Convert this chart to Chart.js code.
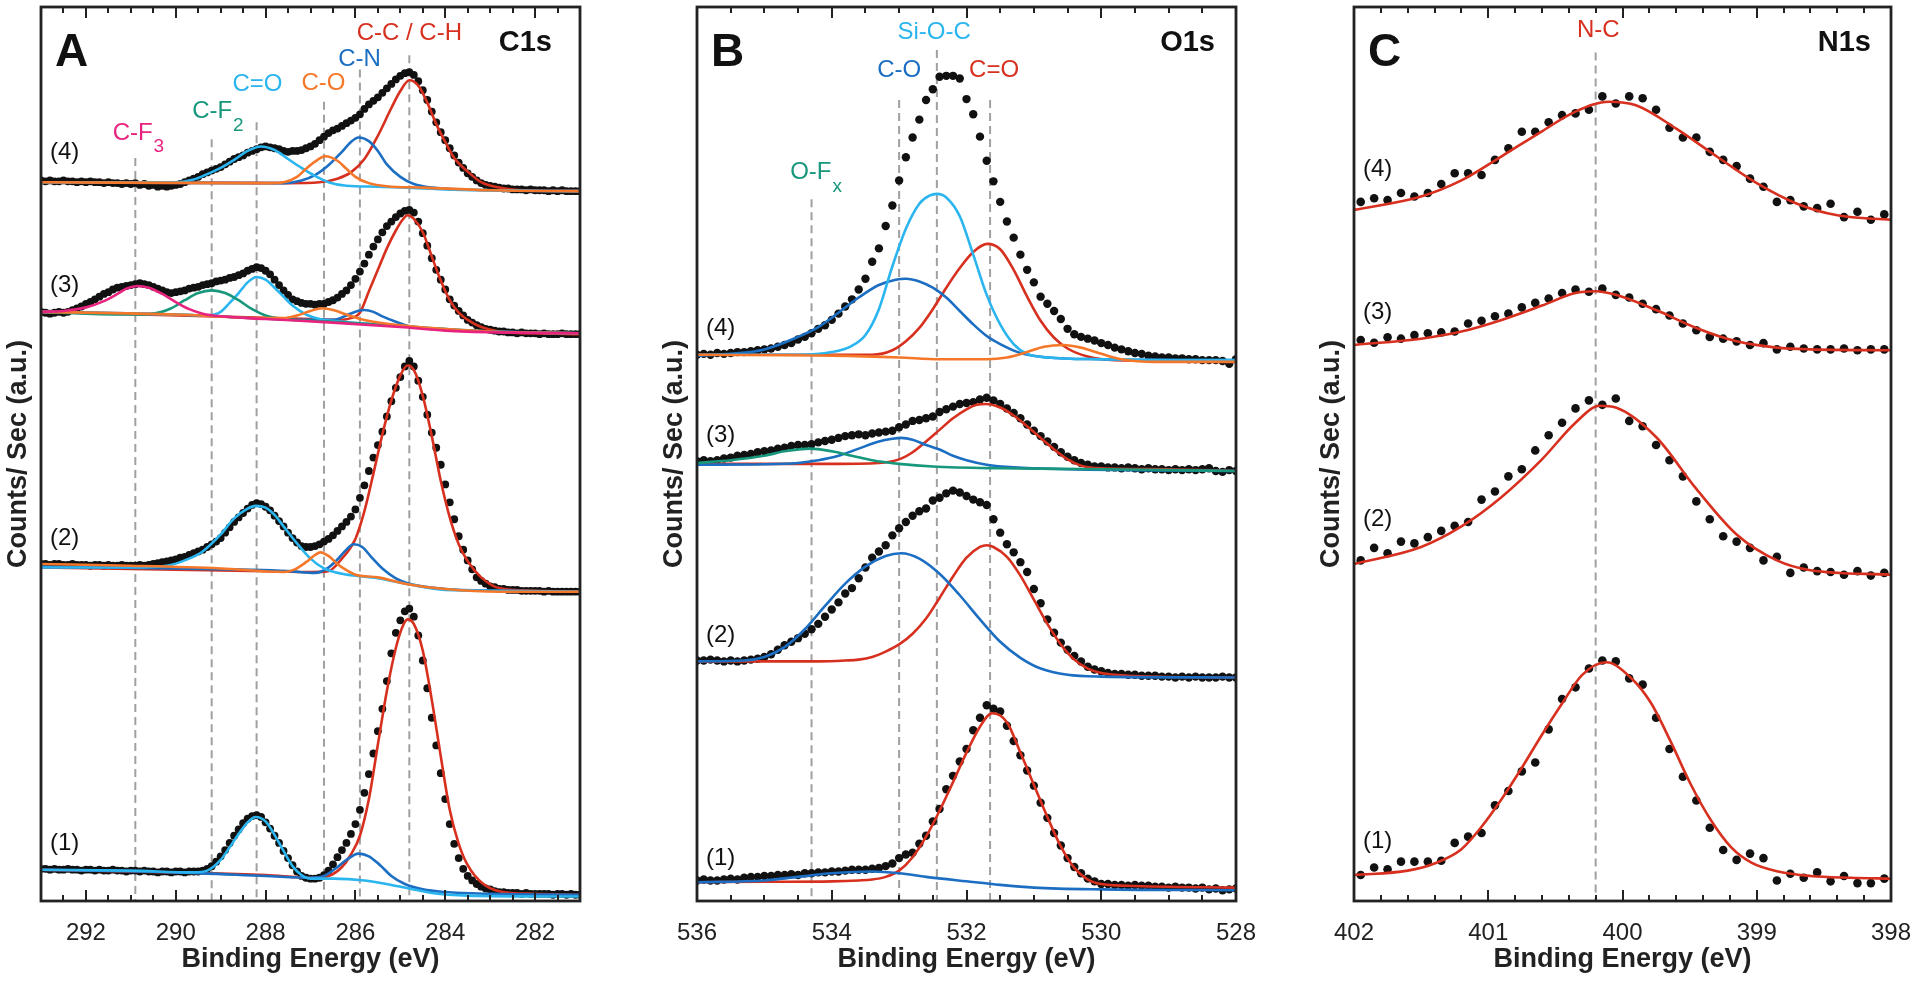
<!DOCTYPE html>
<html>
<head>
<meta charset="utf-8">
<script src="https://cdn.jsdelivr.net/npm/chart.js@4.4.1/dist/chart.umd.min.js"></script>
<style>
html,body{margin:0;padding:0;background:#fff;}
#wrap{position:relative;width:1920px;height:983px;overflow:hidden;}
canvas{position:absolute;top:0;}
</style>
</head>
<body>
<div id="wrap">
<canvas id="cA" width="610" height="983" style="left:0px"></canvas>
<canvas id="cB" width="610" height="983" style="left:656px"></canvas>
<canvas id="cC" width="607" height="983" style="left:1313px"></canvas>
</div>
<script>
var FONT = '"Liberation Sans", Arial, Helvetica, sans-serif';
var RED = '#d7301f', BLUE = '#1b6ec2', LBLUE = '#2bb5ef', ORANGE = '#f5782a', GREEN = '#17977c', PINK = '#e8237f';

// ---------- panel A : C1s ----------
var A_START = 293, A_STEP = 0.1;
var aTicks = [292, 290, 288, 286, 284, 282];
var aData4 = [80.6,80.5,80.6,80.5,80.5,80.6,80.5,80.5,80.4,80.5,
  80.4,80.5,80.4,80.4,80.3,80.4,80.3,80.3,80.2,80.3,
  80.2,80.3,80.1,80.2,80.0,80.1,79.9,80.0,79.9,80.0,
  80.1,80.2,80.4,80.6,80.8,81.0,81.3,81.5,81.7,81.9,
  82.1,82.4,82.7,83.0,83.2,83.4,83.7,83.9,84.1,84.3,
  84.4,84.3,84.2,84.1,83.9,83.8,83.9,83.9,84.0,84.2,
  84.4,84.7,85.1,85.5,85.9,86.2,86.4,86.7,87.0,87.3,
  87.6,88.0,88.6,89.1,89.5,89.9,90.4,90.9,91.4,91.9,
  92.3,92.6,92.7,92.4,91.7,90.7,89.6,88.3,87.1,86.0,
  85.1,84.2,83.4,82.6,82.0,81.4,81.0,80.6,80.3,80.1,
  80.0,79.9,79.8,79.7,79.7,79.6,79.6,79.6,79.5,79.6,
  79.5,79.5,79.5,79.4,79.5,79.4,79.5,79.4,79.4,79.4,
  79.4];
var aData3 = [65.9,65.8,65.7,65.8,65.9,65.8,65.9,66.1,66.3,66.5,
  66.8,67.0,67.3,67.6,67.9,68.1,68.4,68.6,68.7,68.8,
  68.9,69.0,69.1,69.0,68.9,68.7,68.5,68.3,68.1,68.0,
  68.1,68.2,68.3,68.5,68.6,68.7,68.9,69.0,69.1,69.3,
  69.4,69.5,69.7,69.8,70.0,70.2,70.5,70.7,70.9,70.8,
  70.5,70.1,69.5,68.9,68.3,67.8,67.3,67.1,66.9,66.8,
  66.8,66.7,66.8,66.8,67.0,67.2,67.5,67.9,68.3,68.9,
  69.6,70.4,71.3,72.3,73.2,74.0,74.8,75.5,76.0,76.5,
  76.9,77.2,77.3,77.0,76.0,74.7,73.3,71.9,70.6,69.5,
  68.4,67.3,66.6,66.0,65.5,65.0,64.7,64.4,64.2,64.0,
  63.9,63.8,63.7,63.7,63.6,63.6,63.5,63.6,63.5,63.5,
  63.5,63.4,63.5,63.4,63.4,63.4,63.5,63.4,63.4,63.4,
  63.4];
var aData2 = [37.7,37.7,37.6,37.7,37.7,37.6,37.6,37.7,37.6,37.6,
  37.6,37.5,37.6,37.6,37.5,37.6,37.5,37.5,37.6,37.5,
  37.5,37.5,37.6,37.5,37.6,37.7,37.8,37.9,38.0,38.1,
  38.2,38.4,38.5,38.7,38.9,39.1,39.3,39.6,39.9,40.2,
  40.6,41.2,41.8,42.4,42.9,43.4,43.9,44.3,44.5,44.4,
  44.1,43.7,43.1,42.5,41.9,41.2,40.6,40.1,39.7,39.6,
  39.6,39.7,39.9,40.2,40.5,40.9,41.4,41.9,42.4,43.0,
  43.8,45.1,46.5,48.1,49.6,51.0,52.5,54.2,55.9,57.4,
  58.6,59.8,60.4,59.8,58.2,56.4,54.4,52.4,50.7,48.8,
  46.6,44.6,42.7,40.8,39.3,38.1,37.1,36.2,35.8,35.5,
  35.2,35.1,34.9,34.9,34.8,34.8,34.8,34.7,34.7,34.7,
  34.7,34.7,34.6,34.7,34.6,34.6,34.6,34.6,34.6,34.6,
  34.6];
var aData1 = [3.6,3.6,3.5,3.6,3.5,3.5,3.6,3.5,3.5,3.4,
  3.5,3.5,3.4,3.5,3.4,3.4,3.5,3.4,3.4,3.3,
  3.4,3.4,3.3,3.4,3.3,3.3,3.2,3.3,3.3,3.2,
  3.3,3.3,3.2,3.3,3.3,3.3,3.4,3.6,3.9,4.4,
  5.0,5.7,6.5,7.3,8.0,8.7,9.2,9.5,9.6,9.4,
  8.8,8.1,7.3,6.5,5.6,4.8,4.0,3.3,2.8,2.6,
  2.5,2.5,2.6,2.9,3.4,4.1,4.9,5.7,6.5,7.5,
  8.6,10.2,12.1,14.2,16.5,19.0,21.5,24.6,27.7,30.0,
  31.4,32.4,32.7,31.8,29.7,26.9,23.8,20.5,17.4,14.3,
  11.4,8.6,6.4,4.8,3.6,2.8,2.3,1.9,1.6,1.4,
  1.3,1.1,1.0,1.0,0.9,0.9,0.9,0.8,0.9,0.8,
  0.8,0.8,0.8,0.8,0.7,0.8,0.8,0.7,0.8,0.7,
  0.7];

var aCC4 = [[293,80.4],[287.5,80.3],[286.8,80.4],[286.4,80.8],[286.1,81.5],[285.8,83.0],[285.5,85.6],[285.2,88.7],[285.0,90.6],[284.8,91.8],[284.6,91.2],[284.4,89.3],[284.2,86.9],[284.0,84.9],[283.8,83.1],[283.5,81.6],[283.2,80.4],[282.8,79.8],[282.3,79.5],[281,79.4]];
var aCN4 = [[293,80.4],[287.6,80.3],[287.2,80.6],[286.9,81.2],[286.6,82.3],[286.3,83.8],[286.1,84.9],[285.93,85.4],[285.7,85.0],[285.5,83.9],[285.3,82.4],[285.0,81.0],[284.7,80.2],[284.3,79.8],[283,79.5],[281,79.4]];
var aCO4 = [[293,80.4],[288.0,80.3],[287.6,80.4],[287.3,81.0],[287.1,81.9],[286.9,82.7],[286.67,83.3],[286.4,82.8],[286.2,81.9],[286.0,81.0],[285.7,80.3],[285.3,79.95],[284.5,79.8],[283,79.5],[281,79.4]];
var aCdO4 = [[293,80.4],[290.0,80.4],[289.6,80.7],[289.3,81.3],[289.0,82.0],[288.7,82.9],[288.4,83.9],[288.1,84.4],[287.8,84.0],[287.5,83.0],[287.2,82.0],[286.9,81.1],[286.6,80.4],[286.2,80.0],[285.5,79.9],[284,79.6],[281,79.4]];

var aCF33 = [[293,65.9],[292.5,66.0],[292.0,66.4],[291.6,67.1],[291.3,67.9],[291.1,68.5],[290.85,68.8],[290.6,68.6],[290.3,67.9],[290.0,67.0],[289.7,66.2],[289.4,65.7],[289.0,65.4],[288,65.1],[286.5,64.7],[285,64.2],[284,63.8],[282.8,63.6],[281,63.5]];
var aCF23 = [[293,65.9],[292,65.7],[291,65.6],[290.5,65.7],[290.1,66.3],[289.8,67.2],[289.5,68.0],[289.2,68.3],[288.9,68.0],[288.6,67.2],[288.3,66.2],[288.0,65.5],[287.6,65.1],[286.5,64.8],[285,64.3],[283,63.7],[281,63.5]];
var aCdO3 = [[293,65.9],[290,65.6],[289.3,65.5],[289.0,65.9],[288.8,66.9],[288.6,68.0],[288.4,69.2],[288.2,69.8],[288.0,69.5],[287.8,68.6],[287.6,67.6],[287.4,66.6],[287.1,65.6],[286.8,65.1],[286.5,64.9],[285,64.3],[283,63.7],[281,63.5]];
var aCO3 = [[293,65.9],[290,65.6],[288,65.2],[287.6,65.2],[287.3,65.5],[287.0,66.0],[286.74,66.3],[286.5,66.1],[286.2,65.6],[285.9,65.1],[285.6,64.8],[285,64.4],[283,63.7],[281,63.5]];
var aCN3 = [[293,65.9],[290,65.6],[287,65.0],[286.5,65.0],[286.2,65.5],[285.95,66.0],[285.8,66.1],[285.6,65.9],[285.4,65.4],[285.1,64.8],[284.8,64.3],[284,63.9],[282,63.6],[281,63.5]];
var aCC3 = [[293,65.9],[287,65.1],[286.4,65.0],[286.1,65.2],[285.9,65.8],[285.7,68.2],[285.5,70.6],[285.3,73.0],[285.1,75.0],[284.95,76.2],[284.84,76.7],[284.7,76.3],[284.5,74.8],[284.3,72.1],[284.1,69.4],[283.9,67.2],[283.7,65.8],[283.5,65.0],[283.2,64.2],[282.8,63.7],[282,63.5],[281,63.4]];

var aCdO2 = [[293,37.3],[291,37.3],[290.2,37.5],[289.8,38.1],[289.4,39.1],[289.0,41.0],[288.7,42.8],[288.4,43.9],[288.22,44.2],[288.0,44.0],[287.8,43.2],[287.6,41.9],[287.3,40.0],[287.0,38.3],[286.7,37.2],[286.3,36.6],[285.5,36.1],[284.8,35.4],[284,34.8],[282.8,34.7],[281,34.6]];
var aCO2 = [[293,37.7],[291,37.5],[289,37.2],[287.6,36.8],[287.35,37.1],[287.1,37.9],[286.9,38.7],[286.78,39.0],[286.6,38.6],[286.4,37.7],[286.2,37.0],[286.0,36.5],[285.5,36.2],[284.8,35.4],[284,34.9],[282.8,34.6],[281,34.6]];
var aCN2 = [[293,37.4],[290,37.2],[287.5,36.9],[286.9,36.7],[286.6,37.3],[286.4,38.2],[286.2,39.3],[286.04,39.9],[285.85,39.6],[285.65,38.5],[285.4,37.2],[285.1,36.1],[284.8,35.5],[284,34.9],[282.8,34.7],[281,34.6]];
var aCC2 = [[293,37.3],[288,36.9],[287,36.8],[286.6,36.9],[286.3,38.3],[286.0,40.5],[285.8,43.6],[285.6,47.8],[285.4,52.2],[285.2,56.0],[285.0,58.8],[284.84,59.9],[284.7,59.4],[284.5,56.5],[284.3,52.0],[284.1,47.0],[283.9,42.9],[283.7,39.9],[283.5,38.0],[283.2,36.2],[282.8,35.0],[282,34.7],[281,34.6]];

var aCdO1 = [[293,3.5],[291,3.4],[289.6,3.2],[289.3,3.4],[289.0,4.6],[288.8,6.0],[288.6,7.5],[288.4,8.8],[288.22,9.4],[288.0,8.9],[287.8,7.4],[287.6,5.6],[287.4,3.9],[287.2,2.9],[287.0,2.5],[286.5,2.5],[285.8,2.3],[285.2,1.8],[284.8,1.4],[284.3,0.9],[283.5,0.6],[281,0.5]];
var aCN1 = [[293,3.5],[290,3.2],[288,2.8],[287,2.6],[286.7,2.8],[286.45,3.6],[286.2,4.6],[285.93,5.3],[285.7,5.0],[285.45,4.0],[285.2,2.8],[284.9,1.9],[284.5,1.3],[284,1.0],[283,0.8],[281,0.7]];
var aCC1 = [[293,3.5],[288,2.9],[287,2.6],[286.6,2.8],[286.3,3.8],[286.1,5.2],[285.9,7.3],[285.7,11.4],[285.5,17.5],[285.3,23.5],[285.1,28.3],[284.95,30.7],[284.84,31.5],[284.7,31.0],[284.5,28.0],[284.3,22.5],[284.1,16.2],[283.9,10.2],[283.7,6.4],[283.5,4.0],[283.2,2.1],[282.8,1.1],[282,0.8],[281,0.7]];

var aPeakE = [290.9, 289.2, 288.2, 286.7, 285.9, 284.8];
var aPeakTop = [83.1, 85.2, 87.1, 89.4, 93.0, 94.6];
var aNames = ['C-F', 'C-F', 'C=O', 'C-O', 'C-N', 'C-C / C-H'];
var aSubs = ['3', '2', '', '', '', ''];
var aNameE = [290.96, 289.19, 288.18, 286.71, 285.91, 284.8];
var aNameV = [85.9, 88.3, 91.3, 91.5, 94.1, 97.1];
var aNameColor = [PINK, GREEN, LBLUE, ORANGE, BLUE, RED];
var aNumV = [6.5, 40.6, 68.9, 83.7];

// ---------- panel B : O1s ----------
var B_START = 536, B_STEP = 0.1;
var bTicks = [536, 534, 532, 530, 528];
var bData4 = [61.1,61.2,61.1,61.3,61.2,61.3,61.4,61.4,61.5,61.6,
  61.7,61.8,62.0,62.2,62.4,62.8,63.1,63.5,64.0,64.4,
  65.0,65.7,66.5,67.3,68.4,69.6,71.5,73.0,75.5,77.8,
  80.6,83.2,85.4,87.4,89.6,90.8,92.2,92.3,92.3,92.0,
  89.7,88.0,85.5,82.8,80.5,78.2,76.0,74.2,72.3,70.6,
  69.2,67.6,66.8,66.0,65.1,64.0,63.4,63.1,62.9,62.7,
  62.4,62.2,61.9,61.7,61.5,61.3,61.2,61.0,60.9,60.8,
  60.8,60.7,60.7,60.6,60.6,60.5,60.5,60.5,60.4,60.1,
  60.6];
var bData3 = [49.2,49.3,49.2,49.3,49.5,49.6,49.8,49.9,50.0,50.2,
  50.3,50.4,50.6,50.7,50.9,51.0,51.0,51.1,51.3,51.45,
  51.6,51.8,52.0,52.1,52.2,52.1,52.3,52.4,52.5,52.6,
  53.0,53.3,53.7,53.8,54.0,54.2,54.7,55.0,55.3,55.6,
  55.7,55.8,56.1,56.3,56.0,55.6,55.1,54.6,54.0,53.3,
  52.6,52.0,51.4,50.8,50.2,49.7,49.3,49.0,48.8,48.6,
  48.6,48.5,48.5,48.4,48.5,48.4,48.3,48.4,48.3,48.3,
  48.2,48.3,48.2,48.3,48.2,48.3,48.4,48.1,48.0,48.2,
  48.1];
var bData2 = [26.9,26.9,27.0,26.9,26.8,26.9,26.8,26.9,27.0,27.1,
  27.3,27.6,28.1,28.6,29.0,29.4,29.9,30.4,31.0,31.8,
  32.6,33.4,34.4,35.0,36.1,37.3,38.4,39.1,39.8,40.9,
  41.7,42.4,43.1,43.6,43.9,44.8,45.1,45.6,45.9,45.7,
  45.3,44.9,44.6,44.3,42.7,41.2,39.9,39.0,37.9,36.8,
  34.9,33.3,31.5,30.0,28.9,28.1,27.4,26.8,26.2,25.9,
  25.7,25.5,25.4,25.4,25.3,25.3,25.2,25.2,25.2,25.1,
  25.1,25.0,25.1,25.0,25.1,25.0,25.0,25.0,25.1,25.0,
  25.0];
var bData1 = [2.3,2.4,2.3,2.3,2.4,2.5,2.4,2.6,2.7,2.7,
  2.8,2.8,2.9,2.9,3.0,2.9,3.1,3.1,3.2,3.2,
  3.3,3.3,3.4,3.5,3.5,3.5,3.6,3.7,3.9,4.2,
  4.8,5.2,5.4,6.4,7.3,8.9,10.3,12.5,14.0,15.6,
  17.0,19.1,20.5,21.9,21.5,21.2,19.6,17.9,16.3,14.6,
  12.9,11.0,9.3,7.6,6.2,4.8,3.8,3.1,2.5,2.2,
  1.9,1.9,1.8,1.8,1.7,1.8,1.7,1.7,1.6,1.6,
  1.5,1.6,1.5,1.5,1.4,1.5,1.3,1.4,1.2,1.3,
  1.4];

var bSiOC4 = [[536,61.1],[534.5,61.1],[534.0,61.4],[533.7,62.1],[533.5,63.3],[533.3,66.2],[533.1,71.0],[532.9,75.2],[532.7,78.0],[532.55,78.9],[532.44,79.1],[532.3,78.7],[532.1,76.6],[531.9,72.3],[531.7,67.8],[531.5,64.5],[531.3,62.3],[531.1,61.2],[530.8,60.8],[530,60.6],[528,60.5]];
var bCO4 = [[536,61.0],[535.5,61.2],[535.0,61.7],[534.5,63.1],[534.2,64.2],[533.9,65.8],[533.6,67.5],[533.3,68.9],[533.05,69.5],[532.9,69.6],[532.7,69.3],[532.5,68.6],[532.3,67.5],[532.1,66.0],[531.9,64.5],[531.7,63.2],[531.5,62.3],[531.2,61.3],[530.8,60.8],[530,60.6],[528,60.5]];
var bCdO4 = [[536,61.1],[534,61.1],[533.4,61.1],[533.1,61.6],[532.9,62.6],[532.7,64.1],[532.5,66.2],[532.3,68.6],[532.1,70.8],[531.9,72.6],[531.69,73.5],[531.5,72.9],[531.3,70.6],[531.1,67.6],[530.9,64.9],[530.7,63.0],[530.5,61.8],[530.2,60.9],[529.8,60.5],[528,60.4]];
var bOr4 = [[536,61.1],[534,61.0],[533,60.8],[532.4,60.6],[531.7,60.6],[531.4,60.8],[531.1,61.4],[530.85,62.0],[530.56,62.2],[530.3,61.9],[530.0,61.2],[529.7,60.6],[529.2,60.3],[528,60.3]];

var bCdO3 = [[536,48.9],[534,48.9],[533.3,49.0],[533.0,49.4],[532.8,50.2],[532.6,51.4],[532.4,52.7],[532.2,54.0],[532.0,55.0],[531.85,55.5],[531.71,55.6],[531.5,55.2],[531.3,54.3],[531.1,53.1],[530.9,51.8],[530.7,50.5],[530.5,49.4],[530.3,48.7],[530.0,48.4],[529,48.3],[528,48.1]];
var bCO3 = [[536,48.8],[535,48.85],[534.5,49.0],[534.2,49.3],[533.9,49.8],[533.6,50.6],[533.3,51.4],[533.1,51.7],[532.97,51.8],[532.8,51.6],[532.6,51.0],[532.4,50.5],[532.2,49.8],[532.0,49.3],[531.7,48.8],[531.3,48.5],[530.5,48.3],[528,48.1]];
var bOF3 = [[536,49.0],[535.5,49.3],[535.0,49.8],[534.7,50.3],[534.32,50.6],[534.0,50.3],[533.7,49.8],[533.4,49.3],[533.0,48.9],[532.5,48.6],[531.5,48.4],[530,48.3],[528,48.1]];

var bCO2 = [[536,26.8],[535.3,26.9],[535.0,27.3],[534.7,28.4],[534.4,30.4],[534.1,33.0],[533.8,35.5],[533.5,37.4],[533.2,38.6],[532.97,38.9],[532.7,38.3],[532.4,36.6],[532.1,34.2],[531.8,31.5],[531.5,29.0],[531.2,27.2],[530.9,26.0],[530.5,25.3],[530,25.1],[528,25.0]];
var bCdO2 = [[536,26.8],[535,26.8],[534.2,26.8],[533.8,26.9],[533.6,27.0],[533.4,27.3],[533.2,27.9],[533.0,28.7],[532.8,29.9],[532.6,31.6],[532.4,33.9],[532.2,36.3],[532.0,38.4],[531.8,39.6],[531.7,39.8],[531.6,39.6],[531.4,38.5],[531.2,36.4],[531.0,33.7],[530.8,31.0],[530.6,28.7],[530.4,27.0],[530.2,26.0],[530.0,25.5],[529.6,25.2],[528,25.0]];

var bCdO1 = [[536,2.1],[535,2.15],[534,2.2],[533.6,2.3],[533.4,2.4],[533.2,2.7],[533.0,3.4],[532.8,4.9],[532.6,7.2],[532.4,10.1],[532.2,13.3],[532.0,16.6],[531.8,19.5],[531.62,21.0],[531.4,20.0],[531.2,16.6],[531.0,13.0],[530.8,9.4],[530.6,6.1],[530.4,3.7],[530.2,2.4],[530.0,1.9],[529.6,1.7],[528,1.5]];
var bCO1 = [[536,2.1],[535,2.3],[534.5,2.7],[534,3.1],[533.4,3.3],[533,3.1],[532.6,2.7],[532,2.2],[531.5,1.8],[531,1.5],[530,1.3],[528,1.2]];

var bPeakE = [534.3, 533.0, 532.44, 531.65];
var bPeakTop = [78.5, 89.6, 95.2, 89.6];
var bNames = ['O-F', 'C-O', 'Si-O-C', 'C=O'];
var bSubs = ['x', '', '', ''];
var bNameE = [534.31, 533.0, 532.48, 531.59];
var bNameV = [81.5, 92.9, 97.2, 92.9];
var bNameColor = [GREEN, BLUE, LBLUE, RED];
var bNumV = [4.8, 29.7, 52.1, 64.1];

// ---------- panel C : N1s ----------
var C_START = 401.95, C_STEP = 0.1;
var cTicks = [402, 401, 400, 399, 398];
var cData4 = [78.2,78.6,78.4,79.2,78.8,79.2,80.2,81.4,81.4,81.2,82.9,84.2,86.05,86.05,87.1,87.9,88.1,88.5,90.0,89.2,
  90.0,89.8,88.5,86.5,85.4,85.4,83.8,82.9,82.2,80.8,79.9,78.2,78.4,77.7,77.5,78.0,76.5,77.1,76.2,76.8];
var cData3 = [62.75,62.45,63.05,62.9,63.3,63.5,63.6,63.7,64.6,64.9,65.4,65.7,66.4,66.9,67.4,68.0,68.4,68.15,68.5,67.8,
  67.5,66.8,66.2,65.5,64.6,63.85,63.1,62.9,62.6,62.2,62.4,61.7,62.0,61.8,61.7,61.7,61.8,61.6,61.7,61.7];
var cData2 = [38.1,39.5,38.9,40.2,40.0,40.7,41.4,41.96,42.4,44.9,45.8,47.5,48.3,50.4,52.1,53.5,55.1,56.0,55.5,56.2,
  53.7,53.1,51.0,49.3,47.5,44.7,42.7,40.8,40.2,39.5,38.1,38.5,36.7,37.3,36.9,36.8,36.5,36.9,36.4,36.7];
var cData1 = [2.9,3.75,3.55,4.4,4.4,4.4,4.5,6.5,7.2,7.6,10.7,12.3,14.5,15.5,19.2,22.6,23.9,26.0,26.9,26.8,
  24.9,24.2,20.5,17.0,13.9,11.25,8.2,5.7,4.6,5.3,4.8,2.3,3.05,2.6,3.2,2.2,2.8,2.0,2.0,2.5];

var cFit4 = [[402,77.3],[401.5,78.8],[401.2,80.6],[400.9,83.3],[400.6,86.1],[400.35,88.3],[400.1,89.4],[399.9,89.0],[399.6,86.4],[399.3,83.3],[399.0,80.3],[398.7,78.0],[398.4,76.7],[398,76.2]];
var cFit3 = [[402,62.2],[401.5,62.9],[401.2,63.7],[400.9,65.0],[400.6,66.6],[400.35,68.0],[400.2,68.2],[400.05,67.8],[399.75,66.1],[399.45,64.1],[399.15,62.6],[398.85,61.9],[398.6,61.7],[398,61.6]];
var cFit2 = [[402,37.7],[401.5,39.6],[401.2,41.9],[400.9,45.2],[400.6,49.4],[400.35,53.5],[400.17,55.4],[400.05,55.2],[399.75,51.9],[399.45,46.1],[399.15,41.0],[398.85,38.1],[398.6,37.0],[398,36.5]];
var cFit1 = [[402,2.9],[401.6,3.4],[401.4,4.2],[401.2,5.8],[401.05,8.3],[400.9,11.4],[400.75,14.9],[400.6,18.6],[400.45,22.1],[400.3,25.3],[400.12,26.7],[399.94,25.0],[399.79,22.2],[399.64,17.8],[399.49,13.0],[399.34,9.0],[399.19,6.0],[399.04,4.3],[398.84,3.3],[398.6,2.8],[398.3,2.6],[398,2.5]];

var cPeakE = [400.2];
var cPeakTop = [94.9];
var cNames = ['N-C'];
var cSubs = [''];
var cNameE = [400.18];
var cNameV = [97.4];
var cNameColor = [RED];
var cNumV = [6.7, 42.7, 65.8, 81.8];

// ---------- helpers ----------
function grid(start, step, vals) {
  return vals.map(function (v, i) { return { x: +(start - i * step).toFixed(2), y: v }; });
}
function dots(start, step, vals, r) {
  return { data: grid(start, step, vals), showLine: false, pointRadius: r, pointHoverRadius: r,
    pointBackgroundColor: '#111', pointBorderWidth: 0, borderColor: '#111' };
}
function fit(arr, color) {
  return { data: arr.map(function (p) { return { x: p[0], y: p[1] }; }), borderColor: color, borderWidth: 2.6,
    pointRadius: 0, cubicInterpolationMode: 'monotone', fill: false };
}
function dashes(es, tops) {
  return es.map(function (e, i) {
    return { data: [{ x: e, y: tops[i] }, { x: e, y: 0 }], borderColor: '#a0a0a0', borderWidth: 2,
      borderDash: [8, 5], pointRadius: 0, fill: false };
  });
}
function put(ctx, txt, x, y, font, color, align) {
  ctx.font = font; ctx.fillStyle = color; ctx.textAlign = align || 'center'; ctx.textBaseline = 'middle';
  ctx.fillText(txt, x, y);
}

function decor(p) {
  return {
    id: 'decor',
    afterDraw: function (chart) {
      var ctx = chart.ctx, ca = chart.chartArea, xs = chart.scales.x, ys = chart.scales.y;
      ctx.save();
      // inward ticks, bottom and top
      ctx.strokeStyle = '#222'; ctx.lineWidth = 2;
      var n = Math.round((p.max - p.min) / p.minor);
      for (var k = 0; k <= n; k++) {
        var v = p.min + k * p.minor;
        var major = p.ticks.some(function (t) { return Math.abs(t - v) < 1e-6; });
        var len = major ? 11 : 6;
        var px = Math.round(xs.getPixelForValue(v));
        ctx.beginPath();
        ctx.moveTo(px, ca.bottom); ctx.lineTo(px, ca.bottom - len);
        ctx.moveTo(px, ca.top); ctx.lineTo(px, ca.top + len);
        ctx.stroke();
      }
      // frame
      ctx.lineWidth = 2.8;
      ctx.strokeRect(ca.left, ca.top, ca.right - ca.left, ca.bottom - ca.top);
      // panel letter and core level
      put(ctx, p.letter, ca.left + 14, ca.top + 46, 'bold 46px ' + FONT, '#111', 'left');
      put(ctx, p.core, ca.right - p.coreInset, ca.top + 36, 'bold 29px ' + FONT, '#111', 'right');
      // spectrum numbers
      p.numV.forEach(function (v, i) {
        put(ctx, '(' + (i + 1) + ')', ca.left + 9, ys.getPixelForValue(v), '24px ' + FONT, '#111', 'left');
      });
      // peak names
      p.names.forEach(function (t, i) {
        var x = xs.getPixelForValue(p.nameE[i]), y = ys.getPixelForValue(p.nameV[i]);
        put(ctx, t, x, y, '24px ' + FONT, p.nameColor[i], 'center');
        if (p.subs[i]) {
          ctx.font = '24px ' + FONT;
          var w = ctx.measureText(t).width;
          put(ctx, p.subs[i], x + w / 2 + 1, y + 14, '19px ' + FONT, p.nameColor[i], 'left');
        }
      });
      ctx.restore();
    }
  };
}

function makeChart(id, p) {
  var list = [].concat(dashes(p.peakE, p.peakTop), p.layers);
  list.forEach(function (d, i) { d.order = list.length - i; });
  new Chart(document.getElementById(id), {
    type: 'line',
    data: { datasets: list },
    options: {
      responsive: false, animation: false, devicePixelRatio: 1, events: [],
      layout: { padding: { top: 7, right: p.padRight, left: 0, bottom: 0 } },
      plugins: { legend: { display: false }, tooltip: { enabled: false } },
      scales: {
        x: {
          type: 'linear', reverse: true, min: p.min, max: p.max, position: 'bottom',
          afterBuildTicks: function (s) { s.ticks = p.ticks.map(function (v) { return { value: v }; }); },
          afterFit: function (s) { s.height = 82; s.paddingLeft = 0; s.paddingRight = 0; },
          grid: { display: false }, border: { display: false },
          ticks: { autoSkip: false, maxRotation: 0, padding: 10, color: '#222',
            font: { family: FONT, size: 24 }, callback: function (v) { return String(v); } },
          title: { display: true, text: 'Binding Energy (eV)', color: '#222',
            font: { family: FONT, size: 27, weight: 'bold' }, padding: { top: 0, bottom: 7 } }
        },
        y: {
          type: 'linear', min: 0, max: 100,
          afterFit: function (s) { s.width = 41; s.paddingTop = 0; s.paddingBottom = 0; },
          grid: { display: false }, border: { display: false }, ticks: { display: false },
          title: { display: true, text: 'Counts/ Sec (a.u.)', color: '#222',
            font: { family: FONT, size: 27, weight: 'bold' }, padding: { top: 2, bottom: 0 } }
        }
      }
    },
    plugins: [decor(p)]
  });
}

makeChart('cA', {
  min: 281, max: 293, ticks: aTicks, minor: 0.5, padRight: 30,
  letter: 'A', core: 'C1s', coreInset: 28, numV: aNumV,
  peakE: aPeakE, peakTop: aPeakTop,
  names: aNames, subs: aSubs, nameE: aNameE, nameV: aNameV, nameColor: aNameColor,
  layers: [
    dots(A_START, A_STEP, aData4, 3.9), dots(A_START, A_STEP, aData3, 3.9),
    dots(A_START, A_STEP, aData2, 3.9), dots(A_START, A_STEP, aData1, 3.9),
    fit(aCC4, RED), fit(aCN4, BLUE), fit(aCdO4, LBLUE), fit(aCO4, ORANGE),
    fit(aCC3, RED), fit(aCN3, BLUE), fit(aCdO3, LBLUE), fit(aCF23, GREEN), fit(aCO3, ORANGE), fit(aCF33, PINK),
    fit(aCC2, RED), fit(aCN2, BLUE), fit(aCdO2, LBLUE), fit(aCO2, ORANGE),
    fit(aCC1, RED), fit(aCN1, BLUE), fit(aCdO1, LBLUE)
  ]
});

makeChart('cB', {
  min: 528, max: 536, ticks: bTicks, minor: 0.5, padRight: 30,
  letter: 'B', core: 'O1s', coreInset: 21, numV: bNumV,
  peakE: bPeakE, peakTop: bPeakTop,
  names: bNames, subs: bSubs, nameE: bNameE, nameV: bNameV, nameColor: bNameColor,
  layers: [
    dots(B_START, B_STEP, bData4, 4.2), dots(B_START, B_STEP, bData3, 4.2),
    dots(B_START, B_STEP, bData2, 4.2), dots(B_START, B_STEP, bData1, 4.2),
    fit(bCdO4, RED), fit(bCO4, BLUE), fit(bSiOC4, LBLUE), fit(bOr4, ORANGE),
    fit(bCdO3, RED), fit(bCO3, BLUE), fit(bOF3, GREEN),
    fit(bCdO2, RED), fit(bCO2, BLUE),
    fit(bCdO1, RED), fit(bCO1, BLUE)
  ]
});

makeChart('cC', {
  min: 398, max: 402, ticks: cTicks, minor: 0.2, padRight: 29,
  letter: 'C', core: 'N1s', coreInset: 20, numV: cNumV,
  peakE: cPeakE, peakTop: cPeakTop,
  names: cNames, subs: cSubs, nameE: cNameE, nameV: cNameV, nameColor: cNameColor,
  layers: [
    dots(C_START, C_STEP, cData4, 4.3), dots(C_START, C_STEP, cData3, 4.3),
    dots(C_START, C_STEP, cData2, 4.3), dots(C_START, C_STEP, cData1, 4.3),
    fit(cFit4, RED), fit(cFit3, RED), fit(cFit2, RED), fit(cFit1, RED)
  ]
});
</script>
</body>
</html>
